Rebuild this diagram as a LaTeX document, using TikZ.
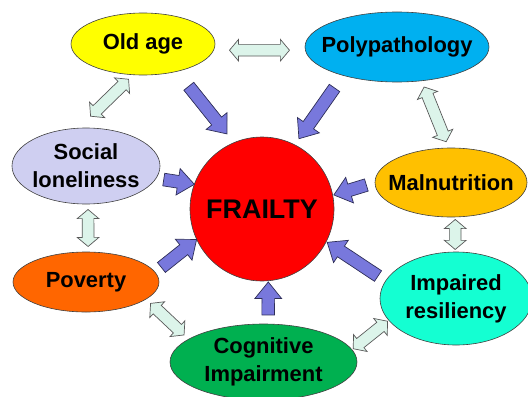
\documentclass[tikz,border=0pt]{standalone}
\usepackage{fontspec}
\setmainfont{Liberation Sans}
\usepackage{tikz}
\usetikzlibrary{shapes.geometric, shapes.arrows}

\definecolor{oldyellow}{HTML}{FFFF00}
\definecolor{polyblue}{HTML}{00B0F0}
\definecolor{sociallilac}{HTML}{CFCFF1}
\definecolor{malorange}{HTML}{FFC000}
\definecolor{povorange}{HTML}{FF6600}
\definecolor{resilcyan}{HTML}{14FFD2}
\definecolor{cogngreen}{HTML}{00B050}
\definecolor{pushblue}{HTML}{7878DC}
\definecolor{pushline}{HTML}{2E2E58}
\definecolor{linkgreen}{HTML}{DCF4EA}

\newcommand{\causefont}{\fontsize{22}{28}\selectfont\bfseries}

\begin{document}
\begin{tikzpicture}[x=1bp, y=1bp, semithick]
  \tikzstyle{cause}=[ellipse, draw=black!75, line width=0.6bp, inner sep=0pt,
                     label={[font=\causefont, align=center]center:#1}]
  \tikzstyle{push}=[single arrow, draw=pushline, fill=pushblue, line width=0.7bp,
                    inner xsep=0pt, inner ysep=6bp, single arrow head extend=7bp,
                    single arrow tip angle=78, sloped, allow upside down]
  \tikzstyle{link}=[double arrow, draw=black!65, fill=linkgreen, line width=0.7bp,
                    inner xsep=0pt, inner ysep=5.5bp, double arrow head extend=5bp,
                    double arrow tip angle=100, sloped, allow upside down]

  \useasboundingbox (0,0) rectangle (528,396);
  \clip (0,0) rectangle (528,396);

  % the centre and the causes around it
  \node[circle, draw=black!75, line width=0.6bp, fill=red, minimum size=144bp,
        font=\fontsize{27}{32}\selectfont\bfseries] (frailty) at (262,187) {FRAILTY};
  \node[cause={Old age}, fill=oldyellow, minimum width=144bp, minimum height=62bp] (old) at (143,352) {};
  \node[cause={Polypathology}, fill=polyblue, minimum width=184bp, minimum height=70bp] (poly) at (397,349) {};
  \node[cause={Social\\loneliness}, fill=sociallilac, minimum width=148bp, minimum height=76bp] (social) at (86,230) {};
  \node[cause={Malnutrition}, fill=malorange, minimum width=152bp, minimum height=69bp] (malnu) at (451,213.5) {};
  \node[cause={Poverty}, fill=povorange, minimum width=146bp, minimum height=60bp] (poverty) at (86,114) {};
  \node[cause={Impaired\\resiliency}, fill=resilcyan, minimum width=152bp, minimum height=93bp] (resil) at (456,97.5) {};
  \node[cause={Cognitive\\Impairment}, fill=cogngreen, minimum width=187bp, minimum height=76bp] (cogn) at (263.5,34) {};

  % every cause pushes towards frailty
  \path (old.-39)     -- (frailty.113) node[push, midway, minimum height=61bp] {};
  \path (poly.-152)   -- (frailty.63)  node[push, midway, minimum height=62bp] {};
  \path (social.-10)  -- (frailty.160) node[push, midway, minimum height=31bp] {};
  \path (malnu.180)   -- (frailty.11)  node[push, midway, minimum height=34bp] {};
  \path (poverty.8)   -- (frailty.205) node[push, midway, minimum height=45bp] {};
  \path (resil.166)   -- (frailty.-27) node[push, midway, minimum height=61bp] {};
  \path (cogn.83)     -- (frailty.-85) node[push, midway, minimum height=33bp] {};

  % links between neighbouring causes
  \path (old.-5)      -- (poly.-178)   node[link, midway, minimum height=60bp] {};
  \path (old.-108)    -- (social.101)  node[link, pos=0.43, minimum height=53bp] {};
  \path (poly.-54)    -- (malnu.94)    node[link, midway, minimum height=59bp] {};
  \path (social.-87)  -- (poverty.86)  node[link, midway, minimum height=37bp] {};
  \path (malnu.-83)   -- (resil.91)    node[link, midway, minimum height=30bp] {};
  \path (poverty.-16) -- (cogn.163)    node[link, midway, minimum height=46bp] {};
  \path (cogn.8)      -- (resil.-162)  node[link, midway, minimum height=44bp] {};
\end{tikzpicture}
\end{document}
